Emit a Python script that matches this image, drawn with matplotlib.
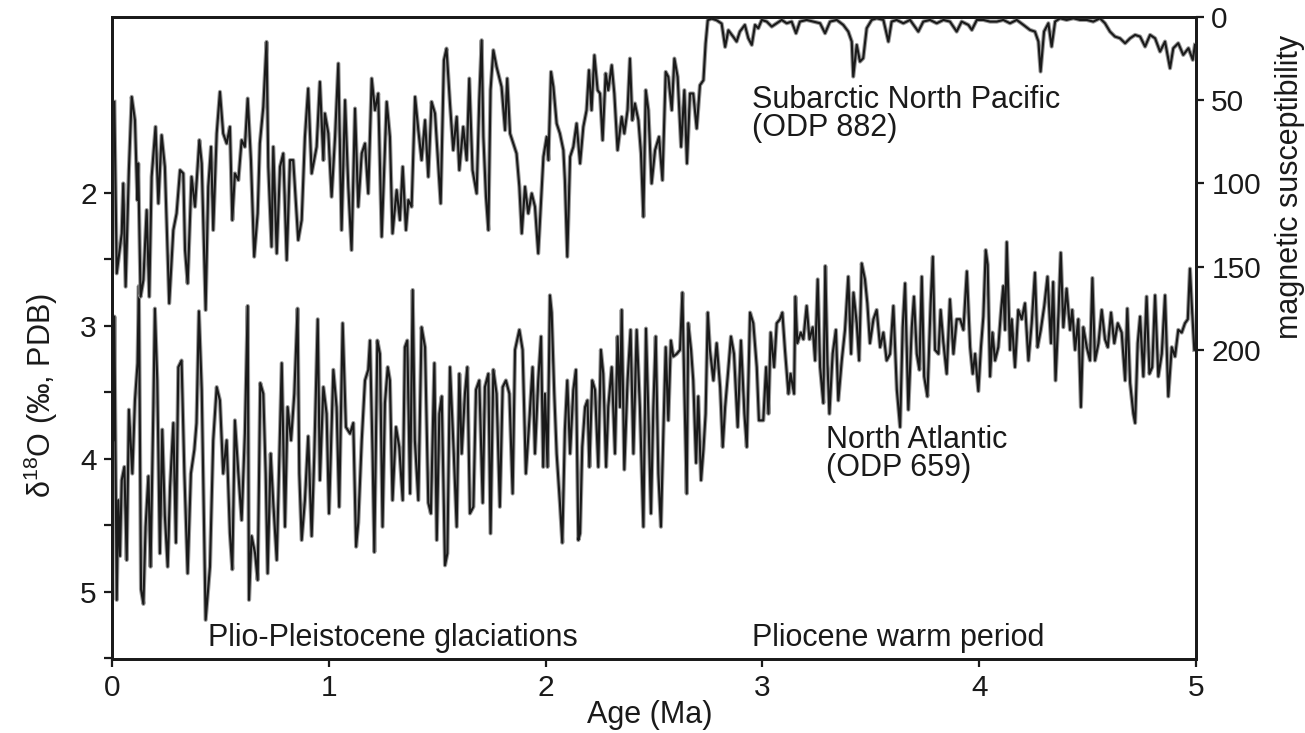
import matplotlib
matplotlib.use('Agg')
from matplotlib import pyplot as plt
from matplotlib.ticker import FixedLocator

plt.rcParams['font.family'] = ['Liberation Sans', 'DejaVu Sans']
plt.rcParams['mathtext.fontset'] = 'custom'
plt.rcParams['mathtext.rm'] = 'Liberation Sans'
plt.rcParams['mathtext.it'] = 'Liberation Sans:italic'

# Subarctic North Pacific (ODP 882), magnetic susceptibility (right axis)
ms_age = [
    0.011, 0.022, 0.045, 0.052, 0.063, 0.078, 0.091, 0.106, 0.117, 0.121,
    0.132, 0.145, 0.160, 0.172, 0.183, 0.201, 0.214, 0.229, 0.244, 0.264,
    0.283, 0.298, 0.314, 0.329, 0.337, 0.349, 0.367, 0.383, 0.403, 0.414,
    0.432, 0.444, 0.457, 0.467, 0.483, 0.498, 0.513, 0.529, 0.544, 0.555,
    0.567, 0.583, 0.598, 0.613, 0.626, 0.641, 0.656, 0.672, 0.682, 0.698,
    0.713, 0.721, 0.736, 0.744, 0.760, 0.775, 0.790, 0.806, 0.821, 0.836,
    0.859, 0.875, 0.890, 0.905, 0.921, 0.944, 0.959, 0.975,
    0.982, 0.998, 1.013, 1.029, 1.044, 1.059, 1.075, 1.090, 1.105, 1.121,
    1.136, 1.152, 1.167, 1.182, 1.198, 1.213, 1.228, 1.244, 1.267, 1.282,
    1.294, 1.313, 1.328, 1.341, 1.356, 1.367, 1.382, 1.398, 1.413, 1.428,
    1.444, 1.459, 1.474, 1.490, 1.516, 1.531, 1.543, 1.559, 1.574, 1.590,
    1.602, 1.620, 1.636, 1.648, 1.663, 1.682, 1.694, 1.705, 1.713, 1.725,
    1.736, 1.746, 1.759, 1.774, 1.797, 1.813, 1.823, 1.836, 1.851, 1.866,
    1.879, 1.890, 1.905, 1.920, 1.936, 1.951, 1.966,
    1.990, 2.005, 2.013, 2.025, 2.036, 2.051, 2.066, 2.082, 2.089, 2.100,
    2.113, 2.128, 2.143, 2.159, 2.174, 2.189, 2.200, 2.212, 2.225, 2.240,
    2.251, 2.263, 2.277, 2.289, 2.305, 2.317, 2.332, 2.351, 2.363, 2.378,
    2.389, 2.400, 2.412, 2.428, 2.440, 2.451, 2.462, 2.474, 2.489, 2.505,
    2.523, 2.539, 2.554, 2.566, 2.582, 2.594, 2.609, 2.625, 2.640, 2.652,
    2.666, 2.681, 2.697, 2.712, 2.728, 2.738, 2.748, 2.766, 2.789, 2.812,
    2.828, 2.843, 2.866,
    2.881, 2.896, 2.919, 2.935, 2.951, 2.966, 2.981, 2.997, 3.020, 3.043,
    3.066, 3.089, 3.112, 3.135, 3.155, 3.173, 3.204, 3.235, 3.266, 3.289,
    3.312, 3.343, 3.373, 3.396, 3.412, 3.419, 3.435, 3.450, 3.465, 3.481,
    3.504, 3.527, 3.558, 3.581, 3.596, 3.619, 3.650, 3.681, 3.719, 3.742,
    3.773, 3.804, 3.835, 3.865, 3.896, 3.919, 3.950, 3.966, 3.989, 4.019,
    4.050, 4.081, 4.111, 4.142, 4.173, 4.204, 4.234, 4.257, 4.273, 4.283,
    4.299, 4.319, 4.334, 4.350, 4.373, 4.403, 4.434, 4.465, 4.496, 4.526,
    4.557, 4.580, 4.603, 4.626, 4.649, 4.673, 4.696, 4.719, 4.742, 4.765,
    4.788, 4.811, 4.834, 4.857, 4.880, 4.895, 4.918, 4.941, 4.965, 4.985,
    4.995,
]
ms_val = [
    51, 154, 130, 100, 162, 92, 48, 62, 110, 88,
    168, 158, 116, 168, 96, 66, 112, 71, 90, 172,
    128, 118, 92, 94, 140, 160, 96, 114, 74, 88,
    176, 102, 78, 128, 70, 45, 70, 76, 66, 122,
    94, 98, 74, 78, 49, 86, 144, 118, 76, 54,
    15, 90, 138, 78, 142, 90, 82, 146, 86, 86,
    134, 122, 72, 43, 94, 78, 39, 86,
    58, 70, 108, 72, 28, 128, 50, 102, 140, 55,
    114, 82, 76, 106, 37, 56, 46, 132, 51, 72,
    130, 104, 122, 90, 128, 110, 114, 48, 68, 86,
    62, 96, 51, 58, 112, 26, 19, 52, 80, 60,
    92, 66, 86, 37, 92, 106, 50, 14, 72, 108,
    128, 44, 20, 30, 42, 68, 37, 70, 76, 82,
    102, 130, 102, 118, 106, 114, 142,
    84, 72, 86, 33, 42, 64, 70, 80, 98, 144,
    84, 78, 64, 88, 66, 56, 32, 56, 23, 44,
    46, 74, 34, 44, 29, 46, 80, 60, 70, 56,
    25, 62, 52, 62, 82, 120, 44, 56, 100, 80,
    72, 98, 33, 36, 56, 25, 36, 78, 44, 88,
    46, 46, 67, 41, 38, 16, 2, 1, 2, 4,
    18, 8, 12,
    14.8, 8.8, 4.8, 12.8, 16.8, 4.8, 6.8, 1.8, 2.8, 5.8,
    3.8, 1.8, 3.8, 2.8, 9.8, 2.8, 1.8, 2.8, 3.8, 9.8,
    2.8, 1.8, 4.8, 8.8, 14.8, 35.8, 16.8, 26.8, 24.8, 6.8,
    1.8, 0.8, 1.8, 14.8, 2.8, 1.8, 3.8, 1.8, 8.8, 2.8,
    1.8, 3.8, 1.8, 2.8, 8.8, 2.8, 4.8, 7.8, 1.8, 1.8,
    2.8, 2.8, 1.8, 3.8, 1.8, 4.8, 7.8, 8.8, 14.8, 32.8,
    8.8, 3.8, 17.8, 2.8, 0.8, 1.8, 0.8, 1.8, 1.8, 2.8,
    0.8, 3.8, 8.8, 11.8, 12.8, 15.8, 12.8, 10.8, 11.8, 17.8,
    10.8, 12.8, 20.8, 14.8, 30.8, 18.8, 15.8, 22.8, 18.8, 25.8,
    16.8,
]

# North Atlantic (ODP 659), benthic d18O (left axis)
d18o_age = [
    0.006, 0.011, 0.022, 0.029, 0.037, 0.045, 0.057, 0.068, 0.078, 0.094,
    0.106, 0.118, 0.124, 0.134, 0.145, 0.155, 0.168, 0.178, 0.191, 0.198,
    0.209, 0.221, 0.232, 0.244, 0.257, 0.268, 0.283, 0.295, 0.306, 0.321,
    0.334, 0.349, 0.364, 0.380, 0.390, 0.401, 0.414, 0.426, 0.432, 0.452,
    0.467, 0.483, 0.498, 0.513, 0.529, 0.544, 0.555, 0.567, 0.583, 0.598,
    0.613, 0.626, 0.632, 0.644, 0.660, 0.672, 0.684, 0.698, 0.709, 0.718,
    0.732, 0.744, 0.760, 0.770, 0.783, 0.798, 0.810, 0.826, 0.841, 0.856,
    0.864, 0.875, 0.890, 0.905, 0.921, 0.933, 0.949, 0.959, 0.975, 0.990,
    1.001,
    1.021, 1.036, 1.048, 1.064, 1.079, 1.098, 1.113, 1.126, 1.136, 1.152,
    1.167, 1.182, 1.190, 1.202, 1.210, 1.224, 1.236, 1.248, 1.259, 1.272,
    1.282, 1.294, 1.310, 1.325, 1.341, 1.351, 1.362, 1.375, 1.387, 1.397,
    1.413, 1.428, 1.444, 1.459, 1.471, 1.487, 1.498, 1.510, 1.521, 1.536,
    1.547, 1.559, 1.574, 1.590, 1.602, 1.613, 1.628, 1.639, 1.651, 1.667,
    1.679, 1.694, 1.710, 1.720, 1.736, 1.746, 1.759, 1.774, 1.789, 1.802,
    1.817, 1.833, 1.848, 1.859, 1.879, 1.894, 1.909, 1.925, 1.940, 1.951,
    1.966, 1.979, 1.989,
    1.997, 2.009, 2.020, 2.028, 2.040, 2.051, 2.066, 2.077, 2.089, 2.100,
    2.113, 2.128, 2.140, 2.151, 2.159, 2.169, 2.182, 2.193, 2.202, 2.215,
    2.228, 2.243, 2.255, 2.266, 2.279, 2.289, 2.305, 2.320, 2.332, 2.343,
    2.351, 2.363, 2.378, 2.392, 2.405, 2.420, 2.435, 2.451, 2.463, 2.474,
    2.486, 2.497, 2.508, 2.520, 2.532, 2.543, 2.554, 2.566, 2.578, 2.589,
    2.605, 2.620, 2.631, 2.640, 2.651, 2.658, 2.671, 2.681, 2.694, 2.704,
    2.717, 2.728, 2.738, 2.748, 2.758, 2.774, 2.789, 2.805, 2.817, 2.828,
    2.840, 2.855, 2.869, 2.886, 2.901, 2.917, 2.928, 2.943, 2.958, 2.974,
    2.984,
    3.004, 3.017, 3.028, 3.038, 3.054, 3.066, 3.081, 3.092, 3.104, 3.120,
    3.130, 3.146, 3.152, 3.161, 3.177, 3.189, 3.204, 3.217, 3.232, 3.243,
    3.255, 3.266, 3.281, 3.290, 3.300, 3.309, 3.324, 3.339, 3.350, 3.366,
    3.381, 3.396, 3.409, 3.420, 3.435, 3.446, 3.458, 3.473, 3.484, 3.496,
    3.512, 3.527, 3.543, 3.558, 3.573, 3.589, 3.604, 3.620, 3.635, 3.647,
    3.658, 3.673, 3.689, 3.699, 3.712, 3.724, 3.735, 3.746, 3.761, 3.776,
    3.786, 3.796, 3.812, 3.822, 3.835, 3.850, 3.865, 3.881, 3.896, 3.912,
    3.927, 3.943, 3.958, 3.970, 3.981,
    3.996, 4.008, 4.019, 4.030, 4.039, 4.050, 4.061, 4.073, 4.088, 4.101,
    4.111, 4.119, 4.127, 4.142, 4.150, 4.165, 4.180, 4.196, 4.211, 4.227,
    4.242, 4.257, 4.269, 4.284, 4.300, 4.315, 4.331, 4.341, 4.352, 4.365,
    4.376, 4.388, 4.403, 4.419, 4.429, 4.442, 4.457, 4.469, 4.480, 4.496,
    4.511, 4.522, 4.534, 4.550, 4.565, 4.580, 4.593, 4.608, 4.623, 4.639,
    4.657, 4.673, 4.683, 4.696, 4.711, 4.719, 4.731, 4.742, 4.757, 4.772,
    4.785, 4.798, 4.811, 4.826, 4.842, 4.857, 4.872, 4.888, 4.903, 4.918,
    4.934, 4.949, 4.962, 4.972, 4.980, 4.992,
]
d18o_val = [
    3.86, 2.93, 5.06, 4.31, 4.73, 4.16, 4.06, 4.76, 3.63, 4.11,
    3.56, 3.28, 2.70, 4.98, 5.09, 4.51, 4.13, 4.81, 3.61, 2.87,
    3.41, 4.71, 3.78, 4.43, 4.81, 4.21, 3.73, 4.63, 3.31, 3.26,
    4.11, 4.86, 4.11, 3.93, 3.73, 2.89, 3.48, 4.61, 5.21, 4.81,
    3.86, 3.46, 3.56, 4.11, 3.86, 4.56, 4.83, 3.71, 4.11, 4.46,
    3.81, 2.85, 5.06, 4.58, 4.71, 4.91, 3.43, 3.51, 4.11, 4.86,
    3.96, 4.33, 4.76, 4.11, 3.28, 4.51, 3.61, 3.86, 3.51, 2.87,
    4.11, 4.61, 4.31, 3.83, 4.58, 3.98, 2.95, 4.16, 3.46, 3.66,
    4.41,
    3.33, 3.61, 4.36, 2.98, 3.76, 3.81, 3.73, 4.66, 4.48, 3.86,
    3.41, 3.33, 3.11, 3.96, 4.70, 3.11, 3.21, 4.51, 3.58, 3.31,
    3.41, 4.31, 3.76, 3.91, 4.31, 3.16, 3.11, 4.26, 2.73, 3.86,
    4.31, 3.01, 3.16, 4.33, 4.41, 3.28, 4.61, 3.66, 3.53, 4.80,
    4.71, 3.31, 3.86, 4.51, 3.36, 3.96, 3.51, 3.31, 4.41, 4.36,
    3.48, 3.41, 4.33, 3.46, 3.36, 4.56, 3.33, 3.51, 4.36, 3.46,
    3.41, 3.51, 4.26, 3.18, 3.03, 3.18, 4.11, 3.71, 3.31, 3.96,
    3.41, 3.08, 4.06,
    3.51, 4.06, 2.77, 2.90, 3.51, 3.96, 4.33, 4.63, 3.78, 3.41,
    3.96, 3.48, 3.33, 4.61, 4.56, 3.91, 3.61, 3.56, 4.06, 3.41,
    3.48, 4.06, 3.18, 3.36, 4.06, 3.61, 3.31, 3.96, 3.08, 3.61,
    2.88, 4.08, 3.41, 3.03, 3.96, 3.03, 3.61, 4.51, 3.02, 3.66,
    4.41, 3.61, 3.08, 4.11, 4.51, 3.81, 3.16, 3.71, 3.11, 3.23,
    3.21, 3.18, 2.75, 3.48, 4.26, 2.98, 3.18, 3.41, 4.03, 3.53,
    4.16, 3.93, 3.66, 2.90, 3.18, 3.41, 3.13, 3.46, 3.91, 3.61,
    3.38, 3.08, 3.21, 3.76, 3.11, 3.66, 3.91, 2.90, 2.98, 3.31,
    3.71,
    3.71, 3.31, 3.66, 3.05, 3.31, 2.98, 2.95, 2.90, 3.18, 3.51,
    3.36, 3.51, 2.78, 3.13, 3.05, 3.10, 2.85, 3.10, 3.01, 3.26,
    2.65, 3.31, 3.58, 2.55, 3.28, 3.66, 3.21, 3.03, 3.56, 3.26,
    3.03, 2.63, 3.21, 2.75, 2.98, 3.26, 2.53, 2.65, 2.83, 3.13,
    2.95, 2.88, 3.16, 3.05, 3.26, 3.21, 2.85, 3.48, 3.76, 3.01,
    2.68, 3.63, 3.01, 2.78, 3.21, 3.33, 2.63, 3.38, 3.53, 2.83,
    2.48, 3.18, 3.21, 2.88, 3.13, 3.36, 2.80, 3.21, 2.95, 2.95,
    3.03, 2.59, 3.16, 3.36, 3.21,
    3.49, 3.16, 2.93, 2.43, 2.54, 3.38, 3.05, 3.26, 3.16, 2.88,
    2.70, 3.03, 2.37, 3.18, 2.95, 3.31, 2.88, 2.95, 2.83, 3.26,
    2.98, 2.60, 3.16, 3.03, 2.85, 2.63, 3.13, 2.67, 3.41, 2.93,
    2.45, 3.01, 2.72, 3.03, 2.88, 3.18, 2.95, 3.61, 3.01, 3.16,
    3.26, 2.64, 3.26, 3.13, 2.88, 3.10, 3.16, 2.90, 3.13, 2.98,
    3.05, 3.41, 2.87, 3.43, 3.66, 3.73, 3.13, 2.93, 3.38, 2.78,
    3.36, 3.31, 2.77, 3.38, 3.21, 2.77, 3.53, 3.16, 3.23, 3.03,
    3.05, 2.98, 2.95, 2.57, 2.83, 3.18,
]

left_ticks = [2, 3, 4, 5]
left_minor = [2.5, 3.5, 4.5, 5.5]
right_ticks = [0, 50, 100, 150, 200]
x_ticks = [0, 1, 2, 3, 4, 5]

ink = '#1a1a1a'
fs = 22

fig = plt.figure(figsize=(13.05, 7.33), dpi=100)
ax = fig.add_axes([0.0858, 0.101, 0.8307, 0.8759])
ax2 = ax.twinx()

# the scanned curves look like a black trace with a grey halo
ax.plot(d18o_age, d18o_val, color='#9a9a9a', lw=3.0)
ax.plot(d18o_age, d18o_val, color=ink, lw=1.5)
ax2.plot(ms_age, ms_val, color='#9a9a9a', lw=3.0)
ax2.plot(ms_age, ms_val, color=ink, lw=1.5)

ax.set_xlim(0, 5)
ax.set_ylim(5.504, 0.677)
ax2.set_ylim(385.6, 0)

ax.xaxis.set_major_locator(FixedLocator(x_ticks))
ax.yaxis.set_major_locator(FixedLocator(left_ticks))
ax.yaxis.set_minor_locator(FixedLocator(left_minor))
ax2.yaxis.set_major_locator(FixedLocator(right_ticks))

for a in (ax, ax2):
    for s in a.spines.values():
        s.set_linewidth(2.0)
        s.set_color(ink)
    a.tick_params(which='both', direction='out', length=6, width=1.6,
                  color=ink, labelsize=21.5, labelcolor=ink, pad=5)

ax.set_xticklabels([str(t) for t in x_ticks])
ax.set_yticklabels([str(t) for t in left_ticks])
ax2.set_yticklabels([str(t) for t in right_ticks])

ax.set_xlabel('Age (Ma)', fontsize=fs, color=ink, va='center')
ax.xaxis.set_label_coords(0.496, -0.087)
ax.set_ylabel('δ$^{18}$O (‰, PDB)', fontsize=fs, color=ink, va='center')
ax.yaxis.set_label_coords(-0.066, 0.41)
ax2.set_ylabel('magnetic susceptibility', fontsize=fs, color=ink,
               rotation=90, va='center')
ax2.yaxis.set_label_coords(1.087, 0.735)

tx = dict(transform=ax.transAxes, fontsize=fs, color=ink, ha='left', va='center')
ax.text(0.590, 0.871, 'Subarctic North Pacific', **tx)
ax.text(0.590, 0.827, '(ODP 882)', **tx)
ax.text(0.659, 0.341, 'North Atlantic', **tx)
ax.text(0.659, 0.2975, '(ODP 659)', **tx)
ax.text(0.0886, 0.033, 'Plio-Pleistocene glaciations', **tx)
ax.text(0.590, 0.033, 'Pliocene warm period', **tx)

fig.savefig('out.png', dpi=100)
